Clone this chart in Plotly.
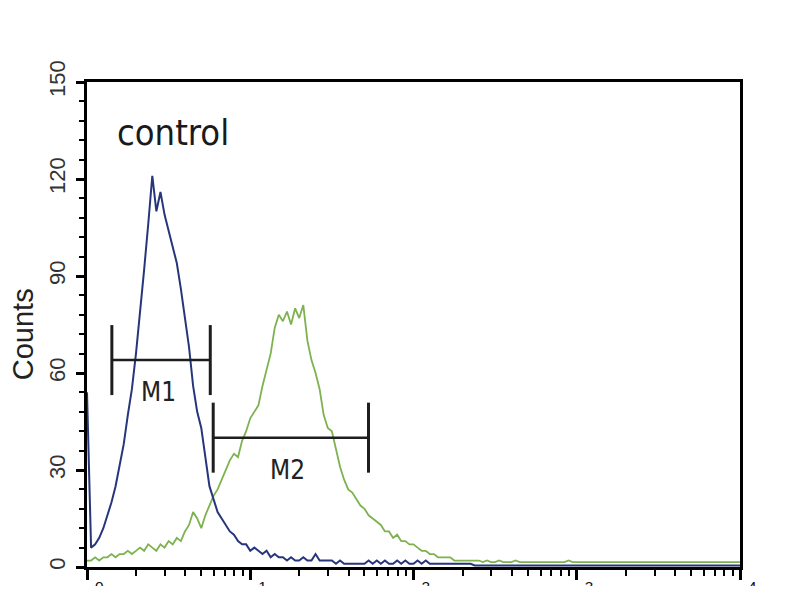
import numpy as np
import plotly.graph_objects as go

# histogram channels, in decades of fluorescence (0 .. 4, step 0.025)
channel_decades = np.round(np.arange(161) * 0.025, 3)

control_counts = [
    54, 6, 7, 9, 12, 16, 20, 25, 31, 38,
    47, 55, 66, 78, 92, 106, 121, 110, 116, 109,
    104, 99, 94, 86, 77, 68, 56, 48, 43, 34,
    25, 21, 17, 15, 13, 11, 10, 8, 7, 7,
    5, 6, 5, 4, 5, 3, 4, 3, 3, 2,
    3, 2, 2, 3, 2, 2, 4, 2, 2, 2,
    2, 1, 2, 1, 1, 1, 1, 1, 1, 2,
    1, 2, 1, 2, 1, 1, 2, 1, 2, 1,
    1, 2, 1, 2, 1, 1, 1, 1, 1, 1,
    1, 1, 1, 1, 1, 0.5, 0.5, 0.5, 0.5, 0.5,
    0.5, 0.5, 0.5, 0.5, 0.5, 0.5, 0.5, 0.5, 0.5, 0.5,
    0.5, 0.5, 0.5, 0.5, 0.5, 0.5, 0.5, 0.5, 0.5, 0.5,
    0.5, 0.5, 0.5, 0.5, 0.5, 0.5, 0.5, 0.5, 0.5, 0.5,
    0.5, 0.5, 0.5, 0.5, 0.5, 0.5, 0.5, 0.5, 0.5, 0.5,
    0.5, 0.5, 0.5, 0.5, 0.5, 0.5, 0.5, 0.5, 0.5, 0.5,
    0.5, 0.5, 0.5, 0.5, 0.5, 0.5, 0.5, 0.5, 0.5, 0.5,
    0.5,
]

sample_counts = [
    2, 2, 3, 2, 3, 3, 4, 3, 4, 4,
    5, 4, 5, 6, 5, 7, 6, 5, 7, 6,
    8, 7, 9, 8, 11, 13, 17, 15, 12, 16,
    19, 22, 24, 27, 30, 33, 35, 34, 39, 42,
    46, 48, 50, 56, 61, 66, 74, 78, 76, 79,
    75, 80, 77, 81, 70, 64, 60, 55, 47, 43,
    42, 36, 31, 27, 24, 23, 21, 19, 18, 16,
    15, 14, 13, 11, 11, 9, 10, 8, 8, 7,
    7, 6, 5, 5, 4, 4, 3, 3, 3, 3,
    2, 2, 2, 2, 2, 2, 2, 1.5, 2, 1.5,
    1.5, 2, 1.5, 1.5, 1.5, 2, 1.5, 1.5, 1.5, 1.5,
    1.5, 1.5, 1.5, 1.5, 1.5, 1.5, 1.5, 1.5, 2, 1.5,
    1.5, 1.5, 1.5, 1.5, 1.5, 1.5, 1.5, 1.5, 1.5, 1.5,
    1.5, 1.5, 1.5, 1.5, 1.5, 1.5, 1.5, 1.5, 1.5, 1.5,
    1.5, 1.5, 1.5, 1.5, 1.5, 1.5, 1.5, 1.5, 1.5, 1.5,
    1.5, 1.5, 1.5, 1.5, 1.5, 1.5, 1.5, 1.5, 1.5, 1.5,
    1.5,
]

# gate markers: (x start, x end), count level, label position
m1_range = [1.42, 5.69]
m1_level = 64
m1_label = (2.75, 54)
m2_range = [5.93, 53.0]
m2_level = 40
m2_label = (17.0, 30)

x_tick_vals = [1, 10, 100, 1000, 10000]
x_tick_text = ["10<sup>0</sup>", "10<sup>1</sup>", "10<sup>2</sup>", "10<sup>3</sup>", "10<sup>4</sup>"]
y_tick_vals = [0, 30, 60, 90, 120, 150]

x_vals = 10 ** channel_decades
minor_x = [m * 10 ** e for e in range(4) for m in range(2, 10)]

NARROW = "Liberation Sans Narrow, Arial Narrow, DejaVu Sans Condensed, sans-serif"
REGULAR = "Liberation Sans, Arial, sans-serif"

fig = go.Figure()

fig.add_trace(go.Scatter(
    x=x_vals, y=sample_counts, mode="lines",
    line=dict(color="#7db24f", width=1.8),
))
fig.add_trace(go.Scatter(
    x=x_vals, y=control_counts, mode="lines",
    line=dict(color="#27367c", width=2),
))

for rng, level in [(m1_range, m1_level), (m2_range, m2_level)]:
    fig.add_trace(go.Scatter(
        x=rng, y=[level, level], mode="lines+markers",
        line=dict(color="#1e1e1e", width=2.5),
        marker=dict(symbol="line-ns-open", size=50, line=dict(color="#1e1e1e", width=3)),
    ))

fig.add_annotation(x=np.log10(m1_label[0]), y=m1_label[1], text="M1", showarrow=False,
                   font=dict(family=NARROW, size=26, color="#222"))
fig.add_annotation(x=np.log10(m2_label[0]), y=m2_label[1], text="M2", showarrow=False,
                   font=dict(family=NARROW, size=26, color="#222"))
fig.add_annotation(x=0.132, y=0.895, xref="paper", yref="paper", text="control", showarrow=False,
                   xanchor="center", yanchor="middle",
                   font=dict(family=NARROW, size=36, color="#1a1a1a"))
fig.add_annotation(x=-0.098, y=0.48, xref="paper", yref="paper", text="Counts", showarrow=False,
                   textangle=-90, xanchor="center", yanchor="middle",
                   font=dict(family=REGULAR, size=29, color="#222"))

fig.update_xaxes(
    type="log", range=[0, 4], automargin=False,
    showline=True, linecolor="black", linewidth=2.5, mirror=True,
    showgrid=False, zeroline=False,
    tickvals=x_tick_vals, ticktext=x_tick_text,
    ticks="outside", ticklen=10, tickwidth=3, tickcolor="black",
    ticklabelstandoff=-5,
    minor=dict(tickvals=minor_x, ticks="outside", ticklen=6, tickwidth=2, tickcolor="black"),
    tickfont=dict(family=REGULAR, size=22, color="#111"),
)
fig.update_yaxes(
    range=[0, 150], automargin=False,
    showline=True, linecolor="black", linewidth=2.5, mirror=True,
    showgrid=False, zeroline=False,
    tickvals=y_tick_vals, tickangle=-90,
    ticks="outside", ticklen=8, tickwidth=2.5, tickcolor="black",
    ticklabelstandoff=2,
    minor=dict(dtick=6, ticks="outside", ticklen=5, tickwidth=2, tickcolor="black"),
    tickfont=dict(family=REGULAR, size=22, color="#333"),
)

# page body adds an 8 px offset; the figure stops at the clipped tick labels
fig.update_layout(
    width=792, height=578,
    margin=dict(l=79, r=60, t=74, b=19),
    paper_bgcolor="white", plot_bgcolor="white",
    showlegend=False,
)

fig.write_html("out.html")
